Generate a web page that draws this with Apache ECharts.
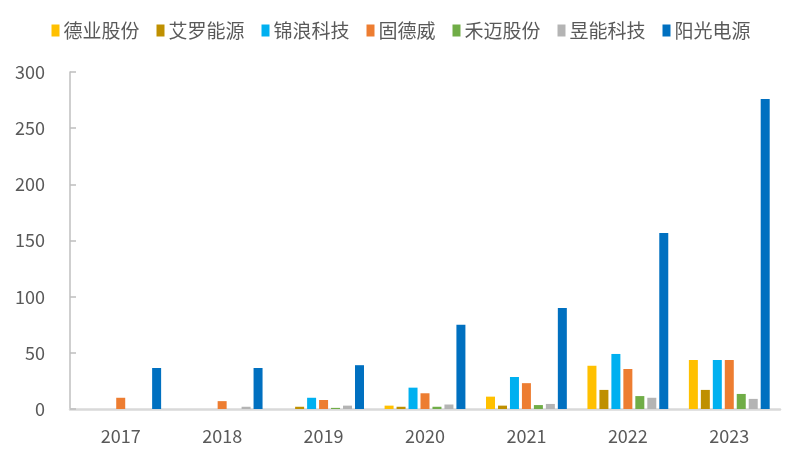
<!DOCTYPE html>
<html><head><meta charset="utf-8">
<script src="https://cdn.jsdelivr.net/npm/echarts@6/dist/echarts.min.js"></script>
<style>html,body{margin:0;padding:0;background:#fff}#c{width:802px;height:461px}</style>
</head><body><div id="c"></div>
<script>
const years = ['2017','2018','2019','2020','2021','2022','2023'];
const seriesNames = ['德业股份','艾罗能源','锦浪科技','固德威','禾迈股份','昱能科技','阳光电源'];
const deye   = [0, 0, 0, 3, 11, 38.5, 43.6];
const aiwei  = [0, 0, 2, 2, 3, 17, 17];
const jinlang= [0, 0, 10, 19, 28.5, 49, 43.6];
const goodwe = [10, 7, 8, 14, 23, 35.6, 43.6];
const hoymiles=[0, 0, 1, 2, 3.5, 11.5, 13.4];
const aps    = [0, 2, 3, 4, 4.5, 10, 9];
const sungrow= [36.5, 36.5, 39, 75, 90, 156.7, 276];
const yTicks = [0, 50, 100, 150, 200, 250, 300];
const colors = ['#FFC000','#BF9000','#00B0F0','#ED7D31','#70AD47','#B4B4B4','#0070C0'];
const values = [deye, aiwei, jinlang, goodwe, hoymiles, aps, sungrow];

const font = '"Noto Sans CJK SC", "Microsoft YaHei", sans-serif';
const chart = echarts.init(document.getElementById('c'));
chart.setOption({
  animation: false,
  color: colors,
  textStyle: {fontFamily: font},
  legend: {
    top: 16, left: 'center',
    itemWidth: 8, itemHeight: 12, itemGap: 17,
    icon: 'rect',
    textStyle: {color: '#595959', fontSize: 19, fontFamily: font, padding: [0,0,0,-1]},
    data: seriesNames
  },
  grid: {left: 70, right: 22, top: 72, bottom: 52, containLabel: false},
  xAxis: {
    type: 'category', data: years,
    axisLine: {lineStyle: {color: '#d9d9d9', width: 2.5}},
    axisTick: {inside: true, length: 7, lineStyle: {color: '#d9d9d9', width: 2}},
    axisLabel: {color: '#595959', fontSize: 18, margin: 18, fontFamily: font}
  },
  yAxis: {
    type: 'value', min: yTicks[0], max: yTicks[yTicks.length-1], interval: 50,
    axisLine: {show: true, lineStyle: {color: '#bfbfbf', width: 1.5}},
    axisTick: {show: true, inside: true, length: 6, lineStyle: {color: '#bfbfbf', width: 1.5}},
    splitLine: {show: false},
    axisLabel: {color: '#595959', fontSize: 18, margin: 25, fontFamily: font}
  },
  series: seriesNames.map((n, i) => ({
    name: n, type: 'bar', data: values[i], barWidth: 9, barGap: '33%'
  }))
});
</script></body></html>
